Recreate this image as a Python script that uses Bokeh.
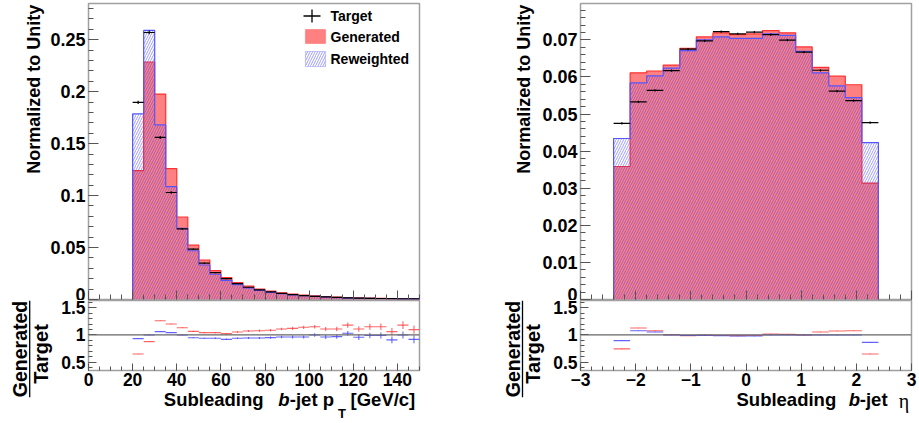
import numpy as np
from bokeh.plotting import figure
from bokeh.layouts import row, column
from bokeh.models import (Range1d, FixedTicker, CustomJSTickFormatter, Label,
                          BoxAnnotation, Span, Arrow)
from bokeh.embed import file_html
from bokeh.resources import INLINE

# ---------------- data: subleading b-jet pT ----------------
pt_edges = [20, 25, 30, 35, 40, 45, 50, 55, 60, 65, 70, 75, 80, 85, 90, 95,
            100, 105, 110, 115, 120, 125, 130, 135, 140, 145, 150]
pt_generated = [0.124, 0.2286, 0.1977, 0.126, 0.0794, 0.0523, 0.038, 0.0277,
                0.021, 0.0163, 0.0128, 0.0099, 0.0080, 0.0064, 0.0052, 0.0042,
                0.0035, 0.0028, 0.0023, 0.0019, 0.0016, 0.0013, 0.0011, 0.0009,
                0.0008, 0.0007]
pt_reweighted = [0.1786, 0.259, 0.168, 0.1087, 0.0686, 0.0469, 0.0332, 0.0243,
                 0.0185, 0.0144, 0.0112, 0.0087, 0.0069, 0.0056, 0.0045, 0.0037,
                 0.0030, 0.0024, 0.0019, 0.0016, 0.0012, 0.0011, 0.0009, 0.0007,
                 0.00068, 0.00055]
pt_target = [0.1897, 0.257, 0.156, 0.103, 0.068, 0.0485, 0.035, 0.0258,
             0.0200, 0.0153, 0.0118, 0.0092, 0.0073, 0.0058, 0.0047, 0.0038,
             0.0030, 0.0025, 0.0020, 0.0016, 0.0013, 0.0011, 0.00095, 0.0008,
             0.00068, 0.0006]
pt_target_err = [0.0015, 0.0018, 0.0014, 0.0011, 0.0009, 0.0007, 0.0006, 0.0005,
                 0.0004, 0.0004, 0.0003, 0.0003, 0.0003, 0.0002, 0.0002, 0.0002,
                 0.0002, 0.0002, 0.0001, 0.0001, 0.0001, 0.0001, 0.0001, 0.0001,
                 0.0001, 0.0001]
pt_ratio_gen = [0.653, 0.878, 1.261, 1.20, 1.133, 1.066, 1.042, 1.042, 1.024,
                1.055, 1.073, 1.078, 1.085, 1.109, 1.12, 1.14, 1.15, 1.109,
                1.109, 1.18, 1.109, 1.15, 1.15, 1.06, 1.18, 1.097]
pt_ratio_gen_err = [0.005, 0.004, 0.006, 0.007, 0.008, 0.010, 0.011, 0.013,
                    0.014, 0.016, 0.018, 0.020, 0.022, 0.025, 0.028, 0.030,
                    0.034, 0.038, 0.042, 0.047, 0.052, 0.056, 0.060, 0.065,
                    0.070, 0.075]
pt_ratio_rew = [0.932, 1.0, 1.06, 1.042, 1.0, 0.95, 0.94, 0.94, 0.92, 0.94,
                0.945, 0.945, 0.951, 0.963, 0.963, 0.963, 1.0, 0.963, 0.97,
                1.03, 0.957, 0.99, 0.99, 0.91, 1.0, 0.92]
pt_ratio_rew_err = [0.005, 0.004, 0.006, 0.007, 0.008, 0.009, 0.010, 0.012,
                    0.013, 0.015, 0.017, 0.019, 0.021, 0.023, 0.026, 0.028,
                    0.032, 0.035, 0.039, 0.043, 0.048, 0.052, 0.056, 0.060,
                    0.065, 0.070]

# ---------------- data: subleading b-jet eta ----------------
eta_edges = [-2.4, -2.1, -1.8, -1.5, -1.2, -0.9, -0.6, -0.3, 0.0, 0.3, 0.6,
             0.9, 1.2, 1.5, 1.8, 2.1, 2.4]
eta_generated = [0.03585, 0.0611, 0.0616, 0.0632, 0.0677, 0.0708, 0.0719,
                 0.0714, 0.0716, 0.0725, 0.0719, 0.0681, 0.0626, 0.0602,
                 0.0579, 0.0314]
eta_reweighted = [0.0434, 0.0584, 0.0603, 0.0624, 0.0671, 0.0700, 0.0708,
                  0.0704, 0.0704, 0.0716, 0.0712, 0.0669, 0.0611, 0.0576,
                  0.0544, 0.0423]
eta_target = [0.0475, 0.0533, 0.0564, 0.0617, 0.0675, 0.0697, 0.0722, 0.0716,
              0.0721, 0.0714, 0.0699, 0.0667, 0.0618, 0.0562, 0.0536, 0.0477]
eta_target_err = [0.0003] * 16
eta_ratio_gen = [0.745, 1.128, 1.078, 1.005, 0.987, 1.0, 0.99, 0.987, 0.99,
                 1.018, 1.01, 1.0, 1.055, 1.073, 1.078, 0.653]
eta_ratio_rew = [0.896, 1.078, 1.055, 1.0, 0.99, 0.99, 0.985, 0.98, 0.98, 1.0,
                 1.0, 1.0, 1.0, 1.0, 1.0, 0.865]
eta_ratio_err = [0.006, 0.005, 0.005, 0.005, 0.004, 0.004, 0.004, 0.004,
                 0.004, 0.004, 0.004, 0.004, 0.005, 0.005, 0.005, 0.006]

legend_labels = ["Target", "Generated", "Reweighted"]
y_title = "Normalized to Unity"
ratio_num, ratio_den = "Generated", "Target"

# ---------------- style ----------------
FONT = "Liberation Sans"
FRAME = "#a0a0a0"
TICK = "#555555"
RED_FILL = "#ff8080"
RED_LINE = "#ff3030"
BLUE_LINE = "#5555ff"
BLUE_HATCH = "#3a3aff"
RATIO_RED = "#ff4040"
RATIO_BLUE = "#4040ff"

fmt = CustomJSTickFormatter(code=r"""
let s = tick.toFixed(3).replace(/\.?0+$/, '');
if (s === '-0') { s = '0'; }
return s.replace('-', '\u2212');
""")
blank_fmt = CustomJSTickFormatter(code="return '';")


def style_axis(ax, major_in, minor_in, labels=True, size="18px", standoff=3):
    ax.axis_line_color = None
    ax.major_tick_in = major_in
    ax.major_tick_out = 0
    ax.minor_tick_in = minor_in
    ax.minor_tick_out = 0
    ax.major_tick_line_color = TICK
    ax.minor_tick_line_color = TICK
    if labels:
        ax.formatter = fmt
        ax.major_label_text_font = FONT
        ax.major_label_text_font_style = "bold"
        ax.major_label_text_font_size = size
        ax.major_label_text_color = "black"
        ax.major_label_standoff = standoff
    else:
        ax.formatter = blank_fmt
        ax.major_label_standoff = 0


def mk_fig(w, h, xr, yr, bl, br, bt, bb):
    p = figure(width=w, height=h, x_range=xr, y_range=yr,
               output_backend="svg", toolbar_location=None,
               min_border_left=bl, min_border_right=br,
               min_border_top=bt, min_border_bottom=bb)
    p.frame_align = False
    p.grid.visible = False
    p.outline_line_color = FRAME
    p.outline_line_width = 1.5
    p.background_fill_color = "white"
    p.border_fill_color = "white"
    return p


def mk_strip(w, h):
    """Blank figure used only to hold axis-title text outside the frames."""
    p = figure(width=w, height=h, x_range=Range1d(0, 1), y_range=Range1d(0, 1),
               output_backend="svg", toolbar_location=None,
               x_axis_type=None, y_axis_type=None,
               min_border_left=0, min_border_right=0,
               min_border_top=0, min_border_bottom=0)
    p.frame_align = False
    p.grid.visible = False
    p.outline_line_color = None
    p.background_fill_color = "white"
    p.border_fill_color = "white"
    return p


def outline(edges, vals):
    xs = [edges[0]]
    ys = [0.0]
    for i, v in enumerate(vals):
        xs += [edges[i], edges[i + 1]]
        ys += [v, v]
    xs.append(edges[-1])
    ys.append(0.0)
    return xs, ys


HATCH = dict(hatch_pattern="/", hatch_color=BLUE_HATCH, hatch_alpha=0.62,
             hatch_scale=5, hatch_weight=0.8)


def draw_main(p, edges, gen, rew, tgt, tgt_err):
    xs, ys = outline(edges, gen)
    p.patch(xs, ys, fill_color=RED_FILL, fill_alpha=1.0, line_color=None)
    p.line(xs, ys, line_color=RED_LINE, line_width=1.2)
    xs2, ys2 = outline(edges, rew)
    p.patch(xs2, ys2, fill_color=None, line_color=None, **HATCH)
    p.line(xs2, ys2, line_color=BLUE_LINE, line_width=1.2)
    lo = np.array(edges[:-1], dtype=float)
    hi = np.array(edges[1:], dtype=float)
    mid = 0.5 * (lo + hi)
    t = np.array(tgt)
    e = np.array(tgt_err)
    p.segment(lo, t, hi, t, line_color="black", line_width=1.2)
    p.segment(mid, t - e, mid, t + e, line_color="black", line_width=1.2)


def draw_ratio(p, edges, r, err, color):
    lo = np.array(edges[:-1], dtype=float)
    hi = np.array(edges[1:], dtype=float)
    mid = 0.5 * (lo + hi)
    r = np.array(r)
    e = np.array(err)
    p.segment(lo, r, hi, r, line_color=color, line_width=1.1, line_alpha=0.8)
    p.segment(mid, r - e, mid, r + e, line_color=color, line_width=1.1,
              line_alpha=0.8)


def lab(p, x, y, text, size, style="bold", align="left", angle=0.0, font=FONT):
    # baseline "middle": the anchor sits at the middle of the capital letters
    p.add_layout(Label(x=x, y=y, x_units="screen", y_units="screen", text=text,
                       text_font=font, text_font_size=size,
                       text_font_style=style, text_align=align,
                       text_baseline="middle", angle=angle,
                       text_color="black"))


def vline(p, x, y0, y1, width=1.3):
    p.add_layout(Arrow(end=None, start=None, x_start=x, y_start=y0,
                       x_end=x, y_end=y1, start_units="screen",
                       end_units="screen", line_color="black",
                       line_width=width))


# ---------------- ranges & figures ----------------
xr_pt = Range1d(0, 150)
xr_eta = Range1d(-3, 3)
yr_pt = Range1d(0, 0.2849)
yr_eta = Range1d(0, 0.0798)
yr_rl = Range1d(0.35, 1.63)
yr_rr = Range1d(0.35, 1.63)

H_MAIN, H_RATIO_ROW, H_RATIO, H_XT = 300, 123, 92, 31

# left column (460 px): strips 46 / 55
stripMainL = mk_strip(46, H_MAIN)
mainL = mk_fig(414, H_MAIN, xr_pt, yr_pt, 42, 41, 3, 1)
stripRatioL = mk_strip(55, H_RATIO_ROW)
ratioL = mk_fig(405, H_RATIO, xr_pt, yr_rl, 33, 41, 0, 22)
xtitleL = mk_strip(405, H_XT)

# right column (459 px): strips 76 / 85
stripMainR = mk_strip(76, H_MAIN)
mainR = mk_fig(383, H_MAIN, xr_eta, yr_eta, 44, 8, 3, 1)
stripRatioR = mk_strip(85, H_RATIO_ROW)
ratioR = mk_fig(374, H_RATIO, xr_eta, yr_rr, 35, 8, 0, 22)
xtitleR = mk_strip(374, H_XT)

pt_major = list(range(0, 141, 20))
pt_minor = list(range(0, 151, 5))
eta_major = [-3, -2, -1, 0, 1, 2, 3]
eta_minor = [round(-3 + 0.2 * i, 1) for i in range(31)]
r_major = [0.5, 1.0, 1.5]
r_minor = [round(0.4 + 0.1 * i, 1) for i in range(13)]

for p, maj, mnr in [(mainL, pt_major, pt_minor), (ratioL, pt_major, pt_minor),
                    (mainR, eta_major, eta_minor), (ratioR, eta_major, eta_minor)]:
    p.xaxis.ticker = FixedTicker(ticks=maj, minor_ticks=mnr)

mainL.yaxis.ticker = FixedTicker(ticks=[0, 0.05, 0.1, 0.15, 0.2, 0.25],
                                 minor_ticks=[round(0.01 * i, 2) for i in range(29)])
mainR.yaxis.ticker = FixedTicker(ticks=[round(0.01 * i, 2) for i in range(8)],
                                 minor_ticks=[round(0.002 * i, 3) for i in range(40)])
for p in (ratioL, ratioR):
    p.yaxis.ticker = FixedTicker(ticks=r_major, minor_ticks=r_minor)

for p in (mainL, mainR):
    style_axis(p.xaxis[0], 9, 5, labels=False)
    style_axis(p.yaxis[0], 10, 5)
for p in (ratioL, ratioR):
    style_axis(p.xaxis[0], 7, 4, size="17.5px", standoff=2)
    style_axis(p.yaxis[0], 8, 4, size="17.5px")

# ---------------- content ----------------
draw_main(mainL, pt_edges, pt_generated, pt_reweighted, pt_target, pt_target_err)
draw_main(mainR, eta_edges, eta_generated, eta_reweighted, eta_target, eta_target_err)

for p in (ratioL, ratioR):
    p.add_layout(Span(location=1.0, dimension="width", line_color="#666666",
                      line_width=1.2))
draw_ratio(ratioL, pt_edges, pt_ratio_gen, pt_ratio_gen_err, RATIO_RED)
draw_ratio(ratioL, pt_edges, pt_ratio_rew, pt_ratio_rew_err, RATIO_BLUE)
draw_ratio(ratioR, eta_edges, eta_ratio_gen, eta_ratio_err, RATIO_RED)
draw_ratio(ratioR, eta_edges, eta_ratio_rew, eta_ratio_err, RATIO_BLUE)

# ---------------- legend (left main panel, frame-relative px) ----------------
mainL.add_layout(Arrow(end=None, start=None, x_start=215, y_start=283.5,
                       x_end=232, y_end=283.5, start_units="screen",
                       end_units="screen", line_color="black", line_width=1.3))
vline(mainL, 223.5, 277, 290)
mainL.add_layout(BoxAnnotation(left=217, right=237, bottom=256, top=270,
                               left_units="screen", right_units="screen",
                               bottom_units="screen", top_units="screen",
                               fill_color=RED_FILL, fill_alpha=1.0,
                               line_color=RED_LINE, line_width=1.2))
mainL.add_layout(BoxAnnotation(left=217, right=237, bottom=233, top=248,
                               left_units="screen", right_units="screen",
                               bottom_units="screen", top_units="screen",
                               fill_color="white", fill_alpha=0.0,
                               line_color=BLUE_LINE, line_width=1.2, **HATCH))
for txt, yy in zip(legend_labels, [284, 263, 241]):
    lab(mainL, 242, yy, txt, "14px")

# ---------------- axis titles (in the strips; left-aligned, rotated) ----------
# main y titles start at 173 px from the top and read upwards
lab(stripMainL, 33.5, 300 - 173.3, y_title, "18px", angle=np.pi / 2)
lab(stripMainR, 63.5, 300 - 173.3, y_title, "18px", angle=np.pi / 2)

# ratio titles: "Generated" over a bar over "Target"
for strip, xg, xb, xt in [(stripRatioL, 19.2, 29.2, 40.5),
                          (stripRatioR, 52.5, 62.0, 72.3)]:
    lab(strip, xg, 123 - 96.7, ratio_num, "19.5px", angle=np.pi / 2)
    vline(strip, xb, 123, 26.3)
    lab(strip, xt, 123 - 83.3, ratio_den, "20px", angle=np.pi / 2)

XM = 31 - 6.7  # middle of the capitals of the x titles inside the strips
lab(xtitleL, 108.3, XM, "Subleading", "18.5px")
lab(xtitleL, 222.7, XM, "b", "18.5px", style="bold italic")
lab(xtitleL, 234.3, XM, "-jet p", "18.5px")
lab(xtitleL, 282.5, 31 - 21, "T", "13px")
lab(xtitleL, 295.0, XM, "[GeV/c]", "18.5px")

lab(xtitleR, 191.0, XM, "Subleading", "18.5px")
lab(xtitleR, 303.3, XM, "b", "18.5px", style="bold italic")
lab(xtitleR, 314.3, XM, "-jet", "18.5px")
lab(xtitleR, 353.3, XM - 2, "\u03b7", "20px", style="normal",
    font="Liberation Serif")

left_col = column(row(stripMainL, mainL),
                  row(stripRatioL, column(ratioL, xtitleL)))
right_col = column(row(stripMainR, mainR),
                   row(stripRatioR, column(ratioR, xtitleR)))
layout = row(left_col, right_col)
open("out.html", "w").write(file_html(layout, INLINE))
